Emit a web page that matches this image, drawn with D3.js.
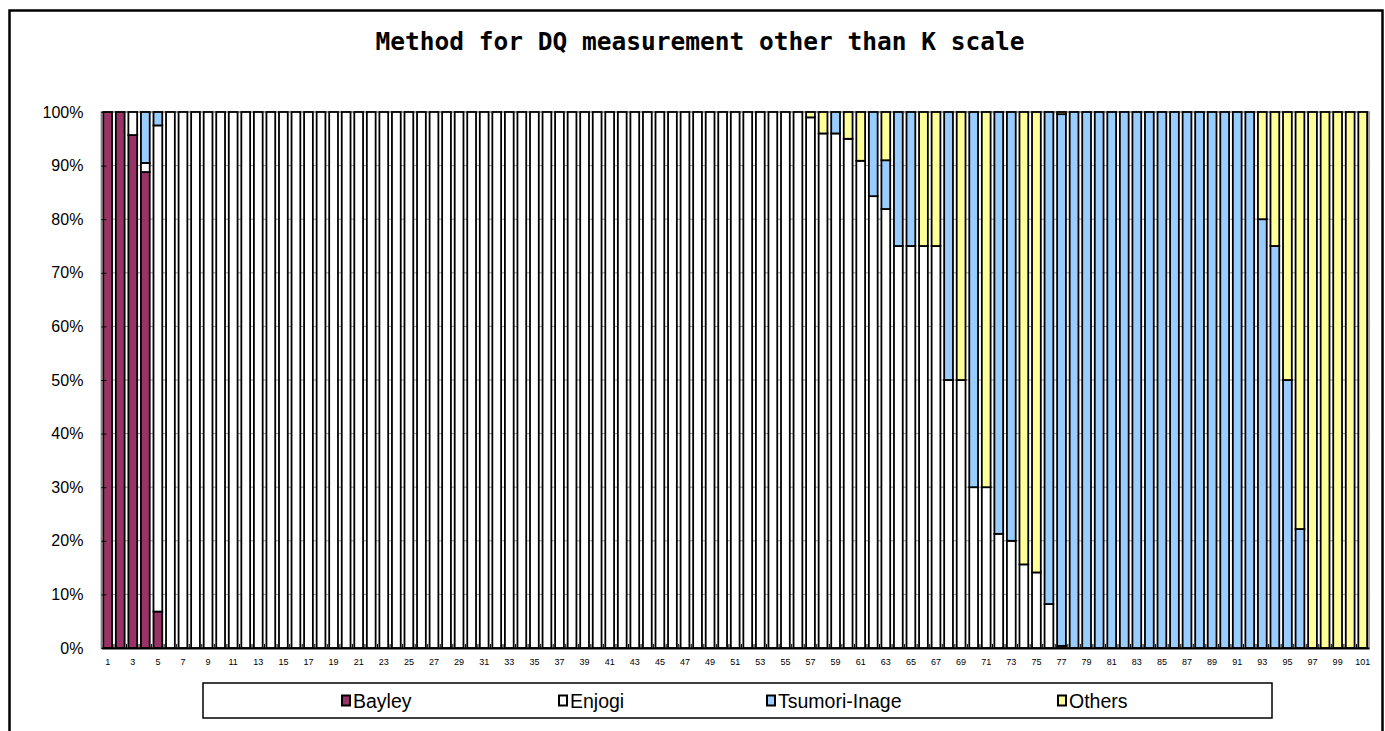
<!DOCTYPE html>
<html><head><meta charset="utf-8">
<script src="https://cdn.jsdelivr.net/npm/d3@7"></script>
<style>body{margin:0;background:#fff;} svg{display:block;}</style>
</head><body><svg id="chart" width="1385" height="731"></svg>
<script>
const categories = [1,2,3,4,5,6,7,8,9,10,11,12,13,14,15,16,17,18,19,20,21,22,23,24,25,26,27,28,29,30,31,32,33,34,35,36,37,38,39,40,41,42,43,44,45,46,47,48,49,50,51,52,53,54,55,56,57,58,59,60,61,62,63,64,65,66,67,68,69,70,71,72,73,74,75,76,77,78,79,80,81,82,83,84,85,86,87,88,89,90,91,92,93,94,95,96,97,98,99,100,101];
const seriesNames = ["Bayley","Enjogi","Tsumori-Inage","Others"];
// values per bar (percent), bars 1..101
const bayley = [100,100,95.7,88.8,6.8,0,0,0,0,0, 0,0,0,0,0,0,0,0,0,0, 0,0,0,0,0,0,0,0,0,0, 0,0,0,0,0,0,0,0,0,0, 0,0,0,0,0,0,0,0,0,0, 0,0,0,0,0,0,0,0,0,0, 0,0,0,0,0,0,0,0,0,0, 0,0,0,0,0,0,0,0,0,0, 0,0,0,0,0,0,0,0,0,0, 0,0,0,0,0,0,0,0,0,0, 0];
const enjogi = [0,0,4.3,1.7,90.7,100,100,100,100,100, 100,100,100,100,100,100,100,100,100,100, 100,100,100,100,100,100,100,100,100,100, 100,100,100,100,100,100,100,100,100,100, 100,100,100,100,100,100,100,100,100,100, 100,100,100,100,100,100,99,96,96,95, 90.9,84.3,81.9,75,75,75,75,50,50,30, 30,21.3,20,15.6,14.1,8.2,0.4,0,0,0, 0,0,0,0,0,0,0,0,0,0, 0,0,0,0,0,0,0,0,0,0, 0];
const tsumori = [0,0,0,9.5,2.5,0,0,0,0,0, 0,0,0,0,0,0,0,0,0,0, 0,0,0,0,0,0,0,0,0,0, 0,0,0,0,0,0,0,0,0,0, 0,0,0,0,0,0,0,0,0,0, 0,0,0,0,0,0,0,0,4,0, 0,15.7,9.1,25,25,0,0,50,0,70, 0,78.7,80,0,0,91.8,99.2,100,100,100, 100,100,100,100,100,100,100,100,100,100, 100,100,80,75,50,22.2,0,0,0,0, 0];
const others = [0,0,0,0,0,0,0,0,0,0, 0,0,0,0,0,0,0,0,0,0, 0,0,0,0,0,0,0,0,0,0, 0,0,0,0,0,0,0,0,0,0, 0,0,0,0,0,0,0,0,0,0, 0,0,0,0,0,0,1,4,0,5, 9.1,0,9,0,0,25,25,0,50,0, 70,0,0,84.4,85.9,0,0.4,0,0,0, 0,0,0,0,0,0,0,0,0,0, 0,0,20,25,50,77.8,100,100,100,100, 100];
const yTickValues = [0,10,20,30,40,50,60,70,80,90,100];
const seriesColors = ["#993366","#ffffff","#99ccff","#ffff99"];
const titleText = "Method for DQ measurement other than K scale";

const svg = d3.select("#chart");
const W = 1385, H = 731;
const plot = {left:101.4, right:1369, top:112, bottom:648};

// outer border
svg.append("rect").attr("x",9.5).attr("y",10.5).attr("width",1373).attr("height",H).attr("fill","#fff").attr("stroke","#000").attr("stroke-width",2.5);

const rows = categories.map((c,i)=>({cat:c, "Bayley":bayley[i], "Enjogi":enjogi[i], "Tsumori-Inage":tsumori[i], "Others":others[i]}));
const stack = d3.stack().keys(seriesNames)(rows);

const x = d3.scaleBand().domain(categories).range([plot.left, plot.right]).paddingInner(0.3).paddingOuter(0.15);
const y = d3.scaleLinear().domain([0,100]).range([plot.bottom, plot.top]);

// plot area
svg.append("rect").attr("x",plot.left).attr("y",plot.top).attr("width",plot.right-plot.left).attr("height",plot.bottom-plot.top)
  .attr("fill","#fff").attr("stroke","#808080").attr("stroke-width",1.5);

// gridlines
svg.append("g").selectAll("line").data(yTickValues.filter(v=>v>0)).join("line")
  .attr("x1",plot.left).attr("x2",plot.right).attr("y1",d=>y(d)).attr("y2",d=>y(d))
  .attr("stroke","#999").attr("stroke-width",1);

// bars
svg.append("g").selectAll("g").data(stack).join("g")
  .attr("fill",(d,i)=>seriesColors[i])
  .selectAll("rect").data(d=>d.filter(s=>s[1]-s[0]>0)).join("rect")
  .attr("x",d=>x(d.data.cat)).attr("width",x.bandwidth())
  .attr("y",d=>y(d[1])).attr("height",d=>y(d[0])-y(d[1]))
  .attr("stroke","#000").attr("stroke-width",1.8);

// y axis
const yAxis = d3.axisLeft(y).tickValues(yTickValues).tickFormat(d=>d+"%").tickSizeInner(-5).tickSizeOuter(0).tickPadding(18);
const gy = svg.append("g").attr("transform",`translate(${plot.left},0)`).call(yAxis);
gy.select(".domain").attr("stroke","#808080").attr("stroke-width",1.5);
gy.selectAll(".tick line").attr("stroke","#000");
gy.selectAll("text").attr("font-family","Liberation Sans, Arial, sans-serif").attr("font-size",16).attr("fill","#000");

// x axis
const xAxis = d3.axisBottom(x).tickValues(categories.filter(c=>c%2===1)).tickSize(0).tickPadding(11);
const gx = svg.append("g").attr("transform",`translate(0,${plot.bottom})`).call(xAxis);
gx.select(".domain").attr("stroke","#000").attr("stroke-width",2);
gx.selectAll("text").attr("font-family","Liberation Sans, Arial, sans-serif").attr("font-size",9).attr("fill","#000");
svg.append("g").selectAll("line").data(categories.slice(1)).join("line")
  .attr("x1",d=>x(d)-x.step()*x.paddingInner()/2).attr("x2",d=>x(d)-x.step()*x.paddingInner()/2)
  .attr("y1",plot.bottom).attr("y2",plot.bottom-4).attr("stroke","#000").attr("stroke-width",1);

// title
svg.append("text").attr("x",700).attr("y",50).attr("text-anchor","middle")
  .attr("font-family","DejaVu Sans Mono, monospace").attr("font-weight","bold").attr("font-size",24.5)
  .text(titleText);

// legend
const legBox = {x:203, y:683, w:1069, h:35};
const legendX = [342, 559, 767, 1058];
svg.append("rect").attr("x",legBox.x).attr("y",legBox.y).attr("width",legBox.w).attr("height",legBox.h)
  .attr("fill","#fff").attr("stroke","#000").attr("stroke-width",1.5);
const items = svg.append("g").selectAll("g").data(seriesNames).join("g")
  .attr("transform",(d,i)=>`translate(${legendX[i]},${legBox.y+legBox.h/2})`);
items.append("rect").attr("width",8).attr("height",10).attr("y",-5)
  .attr("fill",(d,i)=>seriesColors[i]).attr("stroke","#000").attr("stroke-width",2);
items.append("text").attr("x",11).attr("dy","0.36em")
  .attr("font-family","Liberation Sans, Arial, sans-serif").attr("font-size",19.5).text(d=>d);
</script></body></html>
